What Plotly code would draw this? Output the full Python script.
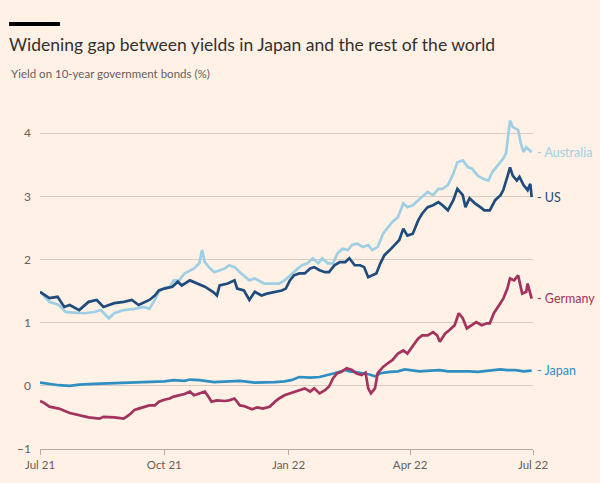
import pandas as pd
import plotly.graph_objects as go

START = "2021-07-01"

# Days since 1 Jul 2021 and yields (%)
us_days = [0, 7, 13, 18, 22, 29, 36, 42, 47, 55, 62, 68, 73, 81, 85, 88, 92, 98, 102, 105, 111, 116, 122, 128, 131, 133, 139, 144, 146, 151, 155, 159, 164, 168, 174, 179, 182, 185, 188, 192, 196, 200, 203, 207, 211, 214, 218, 222, 226, 229, 233, 237, 240, 243, 246, 249, 252, 255, 259, 263, 266, 269, 272, 276, 280, 283, 287, 291, 295, 298, 302, 306, 309, 313, 315, 318, 322, 326, 329, 333, 337, 341, 343, 346, 348, 350, 353, 355, 358, 361, 363, 364]
us_vals = [1.49, 1.39, 1.41, 1.25, 1.28, 1.20, 1.33, 1.36, 1.25, 1.31, 1.33, 1.36, 1.28, 1.36, 1.43, 1.51, 1.54, 1.57, 1.65, 1.59, 1.67, 1.62, 1.57, 1.49, 1.43, 1.59, 1.62, 1.67, 1.54, 1.51, 1.36, 1.49, 1.43, 1.46, 1.49, 1.51, 1.54, 1.67, 1.75, 1.78, 1.78, 1.86, 1.88, 1.83, 1.80, 1.80, 1.91, 1.96, 1.96, 2.02, 1.91, 1.91, 1.88, 1.72, 1.75, 1.78, 1.94, 2.07, 2.15, 2.25, 2.31, 2.49, 2.38, 2.41, 2.62, 2.73, 2.83, 2.86, 2.91, 2.86, 2.78, 2.94, 3.12, 3.02, 2.83, 2.97, 2.89, 2.83, 2.78, 2.78, 2.94, 3.02, 3.10, 3.31, 3.46, 3.33, 3.25, 3.31, 3.18, 3.10, 3.20, 2.99]

au_days = [0, 7, 14, 19, 25, 33, 40, 45, 51, 55, 62, 70, 77, 81, 85, 88, 92, 96, 99, 103, 107, 111, 114, 118, 120, 122, 125, 129, 133, 137, 140, 144, 148, 151, 155, 159, 163, 166, 170, 174, 177, 181, 185, 187, 191, 194, 198, 202, 206, 209, 213, 217, 220, 224, 228, 231, 235, 239, 243, 246, 250, 254, 257, 261, 265, 269, 272, 276, 280, 283, 287, 291, 295, 298, 302, 306, 309, 313, 317, 320, 324, 328, 332, 335, 339, 343, 345, 348, 350, 354, 356, 358, 360, 363, 364]
au_vals = [1.49, 1.33, 1.28, 1.17, 1.16, 1.15, 1.17, 1.20, 1.07, 1.15, 1.20, 1.22, 1.25, 1.22, 1.36, 1.49, 1.55, 1.57, 1.67, 1.67, 1.78, 1.83, 1.86, 1.94, 2.15, 1.96, 1.88, 1.80, 1.83, 1.86, 1.91, 1.88, 1.80, 1.75, 1.67, 1.70, 1.65, 1.62, 1.62, 1.62, 1.62, 1.67, 1.75, 1.78, 1.86, 1.91, 1.94, 2.02, 1.94, 2.02, 1.94, 1.94, 2.09, 2.17, 2.15, 2.23, 2.25, 2.20, 2.23, 2.15, 2.20, 2.41, 2.49, 2.60, 2.67, 2.89, 2.83, 2.86, 2.94, 2.99, 3.07, 3.02, 3.12, 3.12, 3.18, 3.36, 3.54, 3.57, 3.46, 3.44, 3.33, 3.28, 3.25, 3.39, 3.49, 3.60, 3.68, 4.20, 4.10, 4.05, 3.84, 3.70, 3.78, 3.73, 3.70]

jp_days = [0, 7, 14, 22, 29, 40, 51, 62, 73, 85, 92, 99, 107, 111, 118, 129, 137, 148, 159, 166, 174, 181, 186, 192, 200, 207, 213, 218, 226, 229, 233, 240, 244, 248, 252, 259, 265, 270, 275, 281, 289, 296, 302, 307, 312, 318, 324, 329, 335, 341, 346, 352, 358, 364]
jp_vals = [0.05, 0.03, 0.01, 0.00, 0.02, 0.03, 0.04, 0.04, 0.05, 0.06, 0.07, 0.09, 0.08, 0.10, 0.09, 0.06, 0.07, 0.08, 0.05, 0.05, 0.06, 0.07, 0.09, 0.14, 0.13, 0.14, 0.17, 0.20, 0.25, 0.23, 0.22, 0.20, 0.18, 0.15, 0.20, 0.22, 0.23, 0.26, 0.25, 0.23, 0.24, 0.25, 0.23, 0.23, 0.24, 0.23, 0.22, 0.23, 0.24, 0.26, 0.25, 0.25, 0.23, 0.24]

de_days = [0, 3, 7, 14, 22, 29, 36, 44, 47, 55, 62, 66, 70, 73, 77, 81, 85, 88, 92, 96, 99, 103, 107, 111, 114, 118, 122, 124, 127, 131, 137, 140, 144, 148, 151, 157, 161, 165, 170, 174, 177, 181, 185, 188, 192, 196, 200, 203, 207, 211, 214, 217, 220, 223, 227, 231, 234, 238, 241, 243, 245, 248, 250, 254, 257, 261, 265, 269, 272, 276, 280, 283, 287, 291, 294, 296, 300, 303, 307, 310, 313, 316, 320, 323, 327, 331, 333, 336, 340, 343, 346, 348, 351, 354, 357, 360, 361, 364]
de_vals = [-0.24, -0.27, -0.33, -0.36, -0.43, -0.46, -0.50, -0.52, -0.49, -0.50, -0.52, -0.46, -0.38, -0.36, -0.34, -0.31, -0.31, -0.25, -0.22, -0.20, -0.17, -0.15, -0.13, -0.09, -0.15, -0.12, -0.09, -0.15, -0.25, -0.23, -0.24, -0.23, -0.20, -0.31, -0.32, -0.37, -0.34, -0.36, -0.33, -0.25, -0.20, -0.15, -0.12, -0.09, -0.07, -0.04, -0.09, -0.04, -0.12, -0.07, -0.01, 0.12, 0.20, 0.22, 0.28, 0.25, 0.20, 0.17, 0.21, -0.04, -0.12, -0.04, 0.20, 0.30, 0.35, 0.41, 0.51, 0.56, 0.51, 0.64, 0.75, 0.80, 0.80, 0.85, 0.80, 0.70, 0.83, 0.88, 0.96, 1.15, 1.07, 0.91, 0.96, 1.01, 0.96, 0.99, 0.99, 1.15, 1.28, 1.38, 1.54, 1.70, 1.67, 1.75, 1.46, 1.49, 1.62, 1.38]

series_names = ["Japan", "Germany", "Australia", "US"]
series_colors = ["#2e8fc2", "#a3325e", "#9fcfe4", "#1f4b7d"]

x_tickvals = ["2021-07-01", "2021-10-01", "2022-01-01", "2022-04-01", "2022-07-01"]
x_ticktext = ["Jul 21", "Oct 21", "Jan 22", "Apr 22", "Jul 22"]
y_tickvals = [-1, 0, 1, 2, 3, 4]


def to_dates(days):
    return pd.to_datetime(START) + pd.to_timedelta(days, unit="D")


data = {
    "Japan": (jp_days, jp_vals),
    "Germany": (de_days, de_vals),
    "Australia": (au_days, au_vals),
    "US": (us_days, us_vals),
}

BG = "#fff1e5"
FONT = "Lato"
fig = go.Figure()
for name, color in zip(series_names, series_colors):
    d, v = data[name]
    fig.add_trace(go.Scatter(x=to_dates(d), y=v, mode="lines", name=name,
                             line=dict(color=color, width=2.7), hoverinfo="skip"))
    fig.add_annotation(x=to_dates([d[-1]])[0], y=v[-1], text="- " + name,
                       xanchor="left", yanchor="middle", xshift=3, showarrow=False,
                       font=dict(family=FONT, size=12.5, color=color))

fig.update_layout(
    width=600, height=483,
    paper_bgcolor=BG, plot_bgcolor=BG,
    margin=dict(l=40, r=67, t=108, b=34),
    showlegend=False,
    font=dict(family=FONT, size=12, color="#66605c"),
    title=dict(text="Widening gap between yields in Japan and the rest of the world",
               x=9 / 600, xanchor="left", xref="container",
               y=1 - 45 / 483, yanchor="middle", yref="container",
               font=dict(family=FONT, size=17.5, color="#33302e")),
)
fig.add_annotation(text="Yield on 10-year government bonds (%)", xref="paper", yref="paper",
                   x=(9 - 40) / 493, y=(449 - 73) / 341, xanchor="left", yanchor="middle",
                   showarrow=False, font=dict(family=FONT, size=11.5, color="#66605c"))
fig.add_shape(type="rect", xref="paper", yref="paper",
              x0=(9 - 40) / 493, x1=(60 - 40) / 493,
              y0=(449 - 26) / 341, y1=(449 - 22) / 341,
              fillcolor="#000000", line_width=0, layer="above")

fig.update_xaxes(range=["2021-07-01", "2022-07-01"], tickvals=x_tickvals, ticktext=x_ticktext,
                 showgrid=False, showline=True, linecolor="#b8aca2", linewidth=1,
                 ticks="outside", ticklen=5, tickcolor="#b8aca2",
                 tickfont=dict(size=11.5, color="#66605c"), zeroline=False)
fig.update_yaxes(range=[-1, 4.4], tickvals=y_tickvals, showgrid=True, gridcolor="#d9cdc2",
                 gridwidth=1, zeroline=False, ticks="", ticklabelstandoff=8,
                 tickfont=dict(size=12, color="#66605c"))

fig.write_html("out.html", config={"displayModeBar": False},
               post_script="document.body.style.margin='0';")
